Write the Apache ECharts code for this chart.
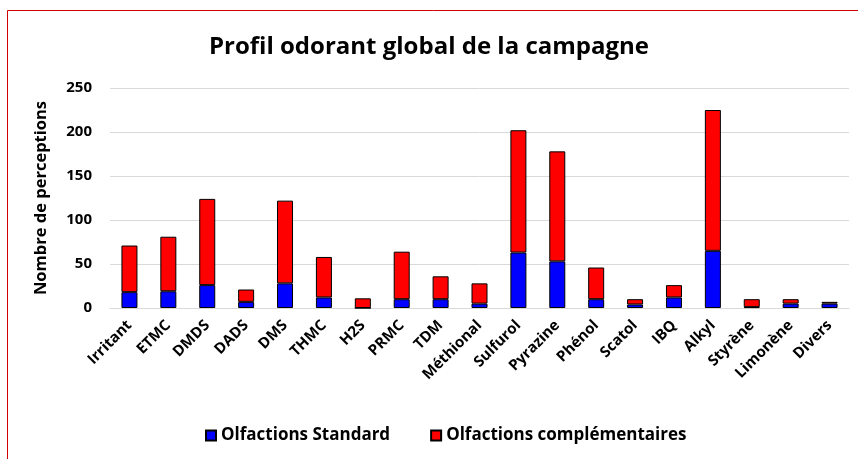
<!DOCTYPE html>
<html>
<head>
<meta charset="utf-8">
<script src="https://cdn.jsdelivr.net/npm/echarts@6/dist/echarts.min.js"></script>
<style>
  html, body { margin: 0; padding: 0; background: #fff; }
  #chart { width: 858px; height: 459px; }
</style>
</head>
<body>
<div id="chart"></div>
<script>
// Données
const categories = ['Irritant', 'ETMC', 'DMDS', 'DADS', 'DMS', 'THMC', 'H2S', 'PRMC', 'TDM', 'Méthional',
  'Sulfurol', 'Pyrazine', 'Phénol', 'Scatol', 'IBQ', 'Alkyl', 'Styrène', 'Limonène', 'Divers'];
const standard = [18, 19, 26, 7, 28, 12, 0, 10, 10, 5, 63, 53, 10, 4, 12, 65, 1, 5, 5];
const complementaires = [53, 62, 98, 14, 94, 46, 11, 54, 26, 23, 139, 125, 36, 6, 14, 160, 9, 5, 2];
const yTicks = [0, 50, 100, 150, 200, 250];

const font = '"Open Sans", "Liberation Sans", sans-serif';
const chart = echarts.init(document.getElementById('chart'));

const option = {
  animation: false,
  textStyle: { fontFamily: font },
  graphic: [{
    type: 'rect',
    shape: { x: 7.5, y: 10.5, width: 900, height: 500 },
    style: { fill: 'none', stroke: '#d00000', lineWidth: 1 },
    silent: true
  }],
  title: {
    text: 'Profil odorant global de la campagne',
    left: 'center',
    top: 30,
    textStyle: { fontFamily: font, fontSize: 24, fontWeight: 'bold', color: '#000' }
  },
  legend: {
    bottom: 10,
    left: 200,
    itemWidth: 10,
    itemHeight: 10,
    itemGap: 40,
    icon: 'rect',
    textStyle: { fontFamily: font, fontSize: 17, fontWeight: 'bold', color: '#000' },
    data: ['Olfactions Standard', 'Olfactions complémentaires']
  },
  grid: { left: 110, right: 9, top: 88, bottom: 151 },
  xAxis: {
    type: 'category',
    data: categories,
    axisLine: { lineStyle: { color: '#d9d9d9', width: 1 } },
    axisTick: { show: false },
    axisLabel: {
      rotate: 45,
      interval: 0,
      margin: 15,
      fontFamily: font,
      fontSize: 15,
      fontWeight: 'bold',
      color: '#000'
    }
  },
  yAxis: {
    type: 'value',
    min: yTicks[0],
    max: yTicks[yTicks.length - 1],
    interval: 50,
    name: 'Nombre de perceptions',
    nameLocation: 'middle',
    nameGap: 60,
    nameTextStyle: { fontFamily: font, fontSize: 16.5, fontWeight: 'bold', color: '#000' },
    axisLine: { show: false },
    axisTick: { show: false },
    axisLabel: { fontFamily: font, fontSize: 15, fontWeight: 'bold', color: '#000', margin: 18 },
    splitLine: { lineStyle: { color: '#d9d9d9', width: 1 } }
  },
  series: [
    {
      name: 'Olfactions Standard',
      type: 'bar',
      stack: 'total',
      barWidth: 16,
      data: standard,
      itemStyle: { color: '#0000ff', borderColor: '#000', borderWidth: 1 }
    },
    {
      name: 'Olfactions complémentaires',
      type: 'bar',
      stack: 'total',
      barWidth: 16,
      data: complementaires,
      itemStyle: { color: '#ff0000', borderColor: '#000', borderWidth: 1 }
    }
  ]
};

chart.setOption(option);
</script>
</body>
</html>
